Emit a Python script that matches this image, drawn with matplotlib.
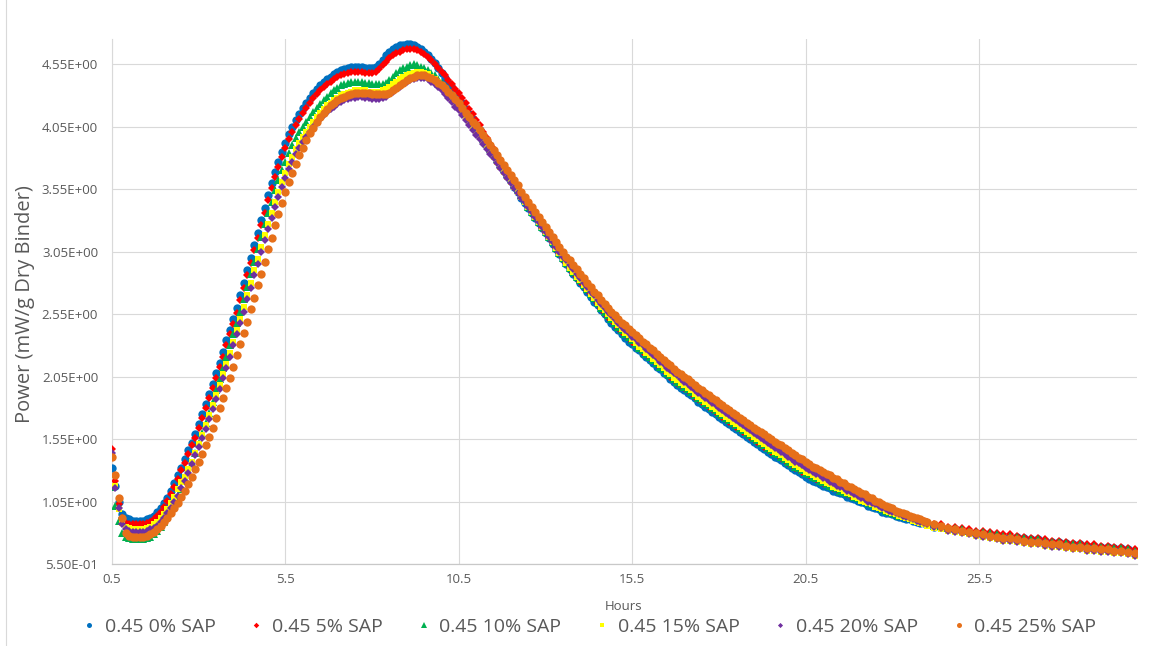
import numpy as np
import matplotlib
matplotlib.use("Agg")
import matplotlib.pyplot as plt
from matplotlib.ticker import FuncFormatter
from matplotlib.lines import Line2D

plt.rcParams["font.family"] = ["Open Sans", "DejaVu Sans"]

# Sampling times (h): 0.1 h steps up to 24 h, 0.2 h steps in the slow tail
hours = np.round(np.concatenate([np.arange(0.5, 24.05, 0.1),
                                 np.arange(24.2, 30.05, 0.2)]), 1)

# Heat-flow power (mW/g dry binder) for each SAP dosage
sap_0 = [
    1.32, 1.18, 1.05, 0.95, 0.92, 0.91, 0.90, 0.90, 0.90, 0.90,
    0.91, 0.92, 0.94, 0.97, 1.00, 1.04, 1.08, 1.14, 1.20, 1.26,
    1.32, 1.39, 1.46, 1.52, 1.59, 1.67, 1.75, 1.83, 1.91, 1.99,
    2.08, 2.16, 2.25, 2.34, 2.42, 2.51, 2.60, 2.70, 2.80, 2.90,
    3.00, 3.10, 3.20, 3.30, 3.40, 3.50, 3.60, 3.69, 3.77, 3.85,
    3.92, 3.99, 4.05, 4.10, 4.15, 4.20, 4.24, 4.28, 4.32, 4.35,
    4.38, 4.41, 4.43, 4.45, 4.47, 4.49, 4.50, 4.51, 4.52, 4.53,
    4.53, 4.53, 4.53, 4.52, 4.52, 4.52, 4.53, 4.55, 4.58, 4.62,
    4.65, 4.67, 4.69, 4.70, 4.70, 4.71, 4.71, 4.70, 4.69, 4.67,
    4.65, 4.62, 4.59, 4.56, 4.52, 4.48, 4.44, 4.40, 4.36, 4.32,
    4.28, 4.24, 4.19, 4.15, 4.11, 4.06, 4.02, 3.97, 3.93, 3.88,
    3.84, 3.79, 3.75, 3.70, 3.66, 3.62, 3.57, 3.53, 3.48, 3.44,
    3.40, 3.36, 3.32, 3.28, 3.24, 3.20, 3.16, 3.11, 3.07, 3.03,
    2.99, 2.95, 2.91, 2.87, 2.84, 2.80, 2.77, 2.73, 2.69, 2.65,
    2.62, 2.58, 2.55, 2.51, 2.48, 2.45, 2.42, 2.39, 2.36, 2.33,
    2.31, 2.28, 2.26, 2.23, 2.21, 2.18, 2.16, 2.13, 2.11, 2.08,
    2.06, 2.03, 2.01, 1.98, 1.96, 1.94,
    1.92, 1.90, 1.88, 1.85, 1.83, 1.81, 1.79, 1.77, 1.75, 1.73,
    1.71, 1.69, 1.67, 1.65, 1.63, 1.61, 1.59, 1.57, 1.55, 1.53,
    1.51, 1.49, 1.47, 1.45, 1.43, 1.41, 1.40, 1.38, 1.36, 1.34,
    1.32, 1.30, 1.29, 1.27, 1.25, 1.23, 1.22, 1.21, 1.19, 1.18,
    1.17, 1.16, 1.14, 1.13, 1.12, 1.11, 1.09, 1.08, 1.07, 1.06,
    1.05, 1.04, 1.02, 1.01, 1.00, 0.99, 0.97, 0.96, 0.96, 0.95,
    0.94, 0.93, 0.92, 0.91, 0.91, 0.90, 0.89, 0.88, 0.88, 0.87,
    0.85, 0.85, 0.83, 0.83, 0.82, 0.81, 0.80, 0.80, 0.79, 0.78,
    0.77, 0.77, 0.77, 0.76, 0.75, 0.75, 0.74, 0.73, 0.73, 0.72,
    0.71, 0.71, 0.70, 0.70, 0.69, 0.69, 0.68, 0.68, 0.67, 0.66,
]

sap_5 = [
    1.47, 1.22, 1.03, 0.92, 0.88, 0.87, 0.87, 0.87, 0.87, 0.87,
    0.88, 0.89, 0.91, 0.94, 0.97, 1.01, 1.06, 1.11, 1.17, 1.23,
    1.30, 1.36, 1.43, 1.50, 1.56, 1.64, 1.72, 1.80, 1.88, 1.96,
    2.04, 2.13, 2.21, 2.30, 2.39, 2.47, 2.56, 2.66, 2.76, 2.86,
    2.96, 3.06, 3.16, 3.26, 3.36, 3.46, 3.56, 3.65, 3.73, 3.81,
    3.88, 3.95, 4.01, 4.06, 4.11, 4.16, 4.20, 4.24, 4.28, 4.31,
    4.34, 4.37, 4.39, 4.41, 4.43, 4.45, 4.46, 4.47, 4.48, 4.49,
    4.49, 4.49, 4.49, 4.48, 4.48, 4.48, 4.49, 4.51, 4.54, 4.57,
    4.60, 4.62, 4.64, 4.65, 4.66, 4.67, 4.67, 4.67, 4.66, 4.65,
    4.63, 4.61, 4.58, 4.55, 4.52, 4.49, 4.46, 4.42, 4.39, 4.35,
    4.32, 4.28, 4.24, 4.19, 4.15, 4.10, 4.06, 4.01, 3.96, 3.91,
    3.87, 3.82, 3.78, 3.73, 3.69, 3.64, 3.60, 3.55, 3.51, 3.46,
    3.41, 3.37, 3.33, 3.29, 3.24, 3.20, 3.16, 3.12, 3.08, 3.04,
    3.00, 2.96, 2.92, 2.88, 2.85, 2.81, 2.78, 2.74, 2.71, 2.67,
    2.63, 2.59, 2.56, 2.53, 2.50, 2.47, 2.44, 2.41, 2.39, 2.36,
    2.33, 2.30, 2.28, 2.25, 2.23, 2.20, 2.18, 2.15, 2.13, 2.10,
    2.08, 2.05, 2.03, 2.00, 1.98, 1.96,
    1.94, 1.92, 1.89, 1.87, 1.85, 1.83, 1.81, 1.79, 1.77, 1.75,
    1.73, 1.71, 1.69, 1.67, 1.65, 1.63, 1.61, 1.59, 1.57, 1.55,
    1.53, 1.51, 1.49, 1.47, 1.45, 1.43, 1.42, 1.40, 1.38, 1.36,
    1.34, 1.32, 1.31, 1.29, 1.27, 1.26, 1.24, 1.23, 1.21, 1.20,
    1.19, 1.18, 1.16, 1.15, 1.14, 1.13, 1.11, 1.10, 1.09, 1.08,
    1.07, 1.06, 1.04, 1.03, 1.02, 1.01, 0.99, 0.98, 0.98, 0.97,
    0.96, 0.95, 0.94, 0.93, 0.93, 0.92, 0.91, 0.90, 0.90, 0.89,
    0.87, 0.87, 0.85, 0.85, 0.84, 0.83, 0.82, 0.82, 0.81, 0.80,
    0.79, 0.79, 0.78, 0.77, 0.76, 0.76, 0.75, 0.74, 0.74, 0.73,
    0.72, 0.72, 0.71, 0.71, 0.70, 0.70, 0.69, 0.69, 0.68, 0.67,
]

sap_10 = [
    1.17, 1.02, 0.90, 0.80, 0.77, 0.76, 0.75, 0.75, 0.75, 0.75,
    0.76, 0.77, 0.79, 0.82, 0.85, 0.89, 0.93, 0.98, 1.03, 1.09,
    1.15, 1.22, 1.29, 1.36, 1.44, 1.52, 1.60, 1.68, 1.76, 1.85,
    1.94, 2.03, 2.12, 2.21, 2.30, 2.39, 2.48, 2.57, 2.67, 2.77,
    2.87, 2.97, 3.07, 3.17, 3.27, 3.36, 3.45, 3.54, 3.62, 3.70,
    3.77, 3.84, 3.90, 3.96, 4.01, 4.05, 4.09, 4.13, 4.17, 4.20,
    4.23, 4.26, 4.29, 4.32, 4.34, 4.36, 4.38, 4.39, 4.40, 4.41,
    4.41, 4.41, 4.41, 4.40, 4.40, 4.39, 4.39, 4.39, 4.39, 4.40,
    4.42, 4.45, 4.48, 4.50, 4.52, 4.53, 4.54, 4.55, 4.54, 4.53,
    4.52, 4.50, 4.48, 4.46, 4.43, 4.40, 4.37, 4.33, 4.30, 4.26,
    4.22, 4.19, 4.15, 4.11, 4.07, 4.03, 3.99, 3.95, 3.91, 3.87,
    3.83, 3.79, 3.75, 3.71, 3.67, 3.63, 3.59, 3.55, 3.50, 3.46,
    3.41, 3.37, 3.33, 3.29, 3.25, 3.21, 3.17, 3.13, 3.08, 3.04,
    3.00, 2.96, 2.92, 2.89, 2.85, 2.82, 2.78, 2.75, 2.71, 2.68,
    2.64, 2.60, 2.57, 2.54, 2.51, 2.48, 2.45, 2.42, 2.39, 2.37,
    2.34, 2.31, 2.28, 2.26, 2.23, 2.21, 2.18, 2.16, 2.13, 2.11,
    2.08, 2.06, 2.03, 2.01, 1.99, 1.97,
    1.95, 1.93, 1.90, 1.88, 1.86, 1.84, 1.82, 1.80, 1.78, 1.76,
    1.74, 1.72, 1.70, 1.68, 1.66, 1.64, 1.62, 1.60, 1.58, 1.56,
    1.54, 1.52, 1.50, 1.48, 1.46, 1.44, 1.43, 1.41, 1.39, 1.37,
    1.35, 1.33, 1.32, 1.30, 1.28, 1.27, 1.25, 1.24, 1.22, 1.21,
    1.19, 1.18, 1.17, 1.16, 1.14, 1.13, 1.12, 1.11, 1.09, 1.08,
    1.07, 1.06, 1.04, 1.03, 1.02, 1.01, 0.99, 0.98, 0.97, 0.96,
    0.95, 0.94, 0.94, 0.93, 0.92, 0.91, 0.91, 0.90, 0.89, 0.88,
    0.86, 0.86, 0.84, 0.84, 0.83, 0.82, 0.81, 0.81, 0.80, 0.79,
    0.78, 0.78, 0.77, 0.76, 0.75, 0.75, 0.74, 0.73, 0.73, 0.72,
    0.71, 0.71, 0.70, 0.70, 0.69, 0.69, 0.68, 0.68, 0.67, 0.66,
]

sap_15 = [
    1.40, 1.18, 0.99, 0.88, 0.85, 0.84, 0.83, 0.83, 0.83, 0.83,
    0.84, 0.85, 0.87, 0.89, 0.92, 0.95, 0.99, 1.04, 1.09, 1.15,
    1.21, 1.25, 1.31, 1.37, 1.44, 1.51, 1.58, 1.66, 1.74, 1.82,
    1.90, 1.98, 2.07, 2.15, 2.24, 2.33, 2.42, 2.51, 2.61, 2.70,
    2.80, 2.90, 2.99, 3.09, 3.18, 3.27, 3.36, 3.45, 3.53, 3.61,
    3.68, 3.75, 3.81, 3.87, 3.92, 3.97, 4.01, 4.05, 4.09, 4.13,
    4.16, 4.19, 4.22, 4.24, 4.26, 4.28, 4.30, 4.31, 4.32, 4.33,
    4.34, 4.34, 4.34, 4.34, 4.33, 4.33, 4.33, 4.33, 4.34, 4.35,
    4.37, 4.39, 4.41, 4.43, 4.45, 4.46, 4.47, 4.48, 4.49, 4.49,
    4.48, 4.47, 4.45, 4.43, 4.41, 4.38, 4.35, 4.32, 4.28, 4.25,
    4.21, 4.17, 4.13, 4.09, 4.05, 4.01, 3.97, 3.93, 3.89, 3.85,
    3.81, 3.77, 3.73, 3.69, 3.65, 3.61, 3.57, 3.53, 3.49, 3.45,
    3.41, 3.37, 3.33, 3.29, 3.25, 3.21, 3.17, 3.13, 3.08, 3.04,
    3.00, 2.96, 2.92, 2.89, 2.85, 2.82, 2.78, 2.75, 2.71, 2.68,
    2.64, 2.61, 2.58, 2.55, 2.52, 2.49, 2.46, 2.43, 2.40, 2.38,
    2.35, 2.32, 2.29, 2.27, 2.24, 2.22, 2.19, 2.17, 2.14, 2.12,
    2.09, 2.07, 2.04, 2.02, 2.00, 1.98,
    1.96, 1.94, 1.91, 1.89, 1.87, 1.85, 1.83, 1.81, 1.79, 1.77,
    1.75, 1.73, 1.71, 1.69, 1.67, 1.65, 1.63, 1.61, 1.59, 1.57,
    1.55, 1.53, 1.51, 1.49, 1.47, 1.45, 1.44, 1.42, 1.40, 1.38,
    1.36, 1.34, 1.33, 1.31, 1.29, 1.28, 1.26, 1.25, 1.23, 1.22,
    1.20, 1.19, 1.17, 1.16, 1.15, 1.14, 1.12, 1.11, 1.09, 1.08,
    1.06, 1.05, 1.04, 1.03, 1.01, 1.00, 0.99, 0.98, 0.97, 0.96,
    0.95, 0.94, 0.93, 0.92, 0.91, 0.90, 0.89, 0.88, 0.87, 0.86,
    0.84, 0.83, 0.82, 0.81, 0.80, 0.79, 0.78, 0.77, 0.76, 0.75,
    0.74, 0.74, 0.73, 0.72, 0.71, 0.71, 0.70, 0.69, 0.69, 0.68,
    0.67, 0.67, 0.66, 0.66, 0.65, 0.65, 0.64, 0.64, 0.63, 0.62,
]

sap_20 = [
    1.44, 1.16, 1.00, 0.87, 0.83, 0.82, 0.81, 0.81, 0.81, 0.81,
    0.82, 0.83, 0.84, 0.86, 0.89, 0.92, 0.96, 1.00, 1.05, 1.10,
    1.16, 1.22, 1.28, 1.35, 1.42, 1.49, 1.56, 1.63, 1.71, 1.79,
    1.87, 1.95, 2.04, 2.12, 2.21, 2.30, 2.39, 2.48, 2.57, 2.67,
    2.76, 2.86, 2.95, 3.05, 3.14, 3.23, 3.32, 3.41, 3.49, 3.57,
    3.64, 3.71, 3.77, 3.83, 3.88, 3.93, 3.97, 4.01, 4.05, 4.08,
    4.11, 4.14, 4.17, 4.19, 4.21, 4.23, 4.25, 4.26, 4.27, 4.28,
    4.28, 4.29, 4.29, 4.28, 4.28, 4.27, 4.27, 4.27, 4.28, 4.29,
    4.31, 4.33, 4.35, 4.37, 4.39, 4.41, 4.42, 4.43, 4.44, 4.44,
    4.44, 4.43, 4.41, 4.39, 4.37, 4.34, 4.31, 4.28, 4.25, 4.21,
    4.18, 4.14, 4.10, 4.06, 4.02, 3.98, 3.95, 3.91, 3.87, 3.83,
    3.80, 3.76, 3.72, 3.68, 3.64, 3.60, 3.56, 3.52, 3.48, 3.45,
    3.41, 3.37, 3.33, 3.29, 3.25, 3.21, 3.17, 3.13, 3.09, 3.05,
    3.01, 2.98, 2.94, 2.91, 2.87, 2.84, 2.80, 2.77, 2.73, 2.70,
    2.66, 2.63, 2.60, 2.57, 2.54, 2.51, 2.48, 2.45, 2.42, 2.40,
    2.37, 2.35, 2.32, 2.30, 2.27, 2.25, 2.22, 2.20, 2.17, 2.15,
    2.12, 2.10, 2.08, 2.06, 2.03, 2.01,
    1.99, 1.97, 1.94, 1.92, 1.90, 1.88, 1.86, 1.84, 1.82, 1.80,
    1.78, 1.76, 1.74, 1.72, 1.70, 1.68, 1.66, 1.64, 1.62, 1.60,
    1.58, 1.56, 1.54, 1.52, 1.50, 1.48, 1.47, 1.45, 1.43, 1.41,
    1.39, 1.37, 1.36, 1.34, 1.32, 1.30, 1.29, 1.27, 1.26, 1.24,
    1.23, 1.21, 1.20, 1.18, 1.17, 1.16, 1.14, 1.13, 1.11, 1.10,
    1.08, 1.07, 1.05, 1.04, 1.03, 1.02, 1.00, 0.99, 0.98, 0.97,
    0.96, 0.95, 0.94, 0.93, 0.92, 0.91, 0.90, 0.89, 0.88, 0.87,
    0.85, 0.84, 0.82, 0.81, 0.80, 0.79, 0.78, 0.77, 0.76, 0.75,
    0.74, 0.74, 0.73, 0.72, 0.71, 0.71, 0.70, 0.69, 0.69, 0.68,
    0.67, 0.67, 0.66, 0.66, 0.65, 0.65, 0.64, 0.64, 0.63, 0.62,
]

sap_25 = [
    1.41, 1.26, 1.08, 0.92, 0.80, 0.78, 0.77, 0.77, 0.77, 0.77,
    0.78, 0.79, 0.81, 0.83, 0.86, 0.89, 0.92, 0.96, 1.00, 1.04,
    1.09, 1.14, 1.19, 1.25, 1.31, 1.37, 1.43, 1.50, 1.57, 1.64,
    1.72, 1.80, 1.88, 1.96, 2.04, 2.13, 2.22, 2.31, 2.40, 2.49,
    2.59, 2.68, 2.78, 2.87, 2.97, 3.07, 3.16, 3.26, 3.35, 3.44,
    3.53, 3.61, 3.68, 3.75, 3.82, 3.88, 3.94, 4.00, 4.04, 4.09,
    4.13, 4.16, 4.19, 4.22, 4.24, 4.26, 4.28, 4.29, 4.30, 4.31,
    4.32, 4.32, 4.32, 4.32, 4.32, 4.31, 4.31, 4.31, 4.31, 4.31,
    4.32, 4.34, 4.36, 4.38, 4.40, 4.42, 4.44, 4.45, 4.46, 4.46,
    4.46, 4.45, 4.44, 4.42, 4.40, 4.38, 4.36, 4.33, 4.30, 4.27,
    4.24, 4.20, 4.16, 4.13, 4.09, 4.06, 4.02, 3.98, 3.94, 3.90,
    3.86, 3.82, 3.78, 3.74, 3.70, 3.66, 3.62, 3.58, 3.53, 3.49,
    3.45, 3.41, 3.37, 3.33, 3.29, 3.25, 3.21, 3.17, 3.13, 3.09,
    3.05, 3.01, 2.98, 2.94, 2.91, 2.87, 2.84, 2.80, 2.77, 2.73,
    2.70, 2.66, 2.63, 2.60, 2.57, 2.54, 2.51, 2.48, 2.46, 2.43,
    2.41, 2.38, 2.36, 2.33, 2.31, 2.28, 2.26, 2.23, 2.21, 2.18,
    2.16, 2.14, 2.11, 2.09, 2.07, 2.05,
    2.03, 2.01, 1.98, 1.96, 1.94, 1.92, 1.90, 1.88, 1.86, 1.84,
    1.82, 1.80, 1.78, 1.76, 1.74, 1.72, 1.70, 1.68, 1.66, 1.64,
    1.62, 1.61, 1.59, 1.57, 1.55, 1.53, 1.51, 1.50, 1.48, 1.46,
    1.44, 1.42, 1.40, 1.39, 1.37, 1.35, 1.33, 1.32, 1.30, 1.29,
    1.27, 1.26, 1.24, 1.23, 1.21, 1.20, 1.18, 1.17, 1.15, 1.14,
    1.12, 1.11, 1.09, 1.08, 1.06, 1.05, 1.03, 1.02, 1.01, 1.00,
    0.98, 0.97, 0.96, 0.95, 0.94, 0.93, 0.92, 0.91, 0.90, 0.89,
    0.87, 0.86, 0.84, 0.83, 0.82, 0.81, 0.80, 0.79, 0.78, 0.77,
    0.76, 0.76, 0.75, 0.74, 0.73, 0.73, 0.72, 0.71, 0.71, 0.70,
    0.69, 0.69, 0.68, 0.68, 0.67, 0.67, 0.66, 0.66, 0.65, 0.64,
]

labels = ["0.45 0% SAP", "0.45 5% SAP", "0.45 10% SAP",
          "0.45 15% SAP", "0.45 20% SAP", "0.45 25% SAP"]
values = [sap_0, sap_5, sap_10, sap_15, sap_20, sap_25]
colors = ["#0070C0", "#FF0000", "#00B050", "#FFFF00", "#7030A0", "#E6701A"]
markers = ["o", "D", "^", "s", "D", "o"]
sizes = [6.0, 4.3, 6.2, 4.6, 3.9, 6.0]
legend_sizes = [3.6, 2.8, 4.0, 3.2, 2.6, 3.6]

x_ticks = [0.5, 5.5, 10.5, 15.5, 20.5, 25.5]
y_ticks = [0.55, 1.05, 1.55, 2.05, 2.55, 3.05, 3.55, 4.05, 4.55]

text_grey = "#595959"
grid_grey = "#D9D9D9"

W, H = 1152, 646
fig = plt.figure(figsize=(W / 100, H / 100), dpi=100)
fig.patch.set_facecolor("white")

left, right, top, bottom = 112, 1137, 39, 564.3
ax = fig.add_axes([left / W, 1 - bottom / H, (right - left) / W, (bottom - top) / H])

for vals in values:
    assert len(vals) == len(hours)

for vals, col, mk, ms, lab in zip(values, colors, markers, sizes, labels):
    ax.plot(hours, vals, linestyle="none", marker=mk, markersize=ms,
            color=col, markeredgewidth=0, label=lab, zorder=3)

ax.set_xlim(0.5, 30.05)
ax.set_ylim(0.55, 4.75)
ax.set_xticks(x_ticks)
ax.set_yticks(y_ticks)
ax.xaxis.set_major_formatter(FuncFormatter(lambda v, p: f"{v:.1f}"))
ax.yaxis.set_major_formatter(FuncFormatter(lambda v, p: f"{v:.2E}"))
ax.tick_params(axis="both", length=0, labelsize=9.5, labelcolor=text_grey)
ax.tick_params(axis="y", pad=10)
ax.tick_params(axis="x", pad=6)

ax.grid(True, color=grid_grey, linewidth=0.8, zorder=0)
ax.set_axisbelow(True)
for side in ("top", "right"):
    ax.spines[side].set_visible(False)
ax.spines["left"].set_color(grid_grey)
ax.spines["left"].set_linewidth(0.8)
ax.spines["bottom"].set_color("#C8C8C8")
ax.spines["bottom"].set_linewidth(0.9)

fig.text(25 / W, 0.53, "Power (mW/g Dry Binder)", rotation=90,
         ha="center", va="center", fontsize=14.5, color=text_grey)
fig.text(624 / W, 1 - 607 / H, "Hours", ha="center", va="center",
         fontsize=9.5, color=text_grey)

handles = [Line2D([], [], linestyle="none", marker=mk, markersize=ms,
                  color=col, markeredgewidth=0)
           for mk, ms, col in zip(markers, legend_sizes, colors)]
fig.legend(handles, labels, loc="center", bbox_to_anchor=(0.512, 1 - 627 / H),
           ncol=6, frameon=False, fontsize=14, labelcolor=text_grey,
           handlelength=0.6, handletextpad=0.5, columnspacing=1.8,
           borderpad=0, borderaxespad=0)

# thin chart-area frame on the left edge
fig.add_artist(Line2D([6 / W, 6 / W], [0, 1], transform=fig.transFigure,
                      color=grid_grey, linewidth=0.8))

fig.savefig("out.png", dpi=100)
